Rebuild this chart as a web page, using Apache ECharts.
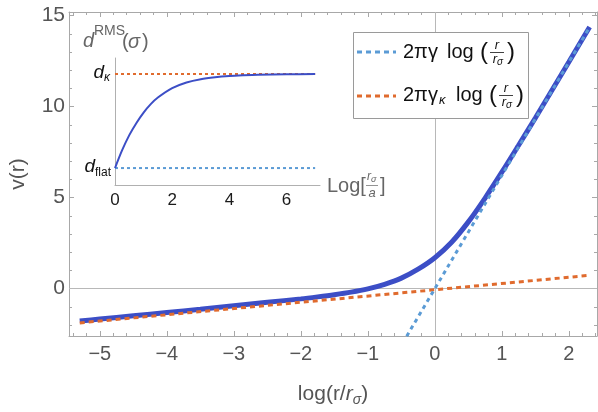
<!DOCTYPE html>
<html><head><meta charset="utf-8">
<script src="https://cdn.jsdelivr.net/npm/echarts@6/dist/echarts.min.js"></script>
<style>html,body{margin:0;padding:0;background:#fff}#c{width:598px;height:412px}</style>
</head><body><div id="c"></div>
<script>
// ---- data ----
const curveX = [-5.3,-5.0,-4.5,-4.0,-3.5,-3.0,-2.5,-2.0,-1.75,-1.5,-1.25,-1.0,-0.75,-0.5,-0.25,0,0.25,0.5,0.75,1.0,1.25,1.5,1.75,2.0,2.31];
const curveY = [-1.78,-1.67,-1.49,-1.31,-1.13,-0.94,-0.75,-0.56,-0.45,-0.33,-0.19,-0.01,0.24,0.58,1.07,1.7,2.55,3.67,4.98,6.4,7.88,9.38,10.91,12.45,14.38];
const gammaLineX = [-0.42, 2.31];
const gammaLineY = [-2.61, 14.37];
const kappaLineX = [-5.3, 2.3];
const kappaLineY = [-1.88, 0.73];
const insetX = [0,0.25,0.5,0.75,1,1.25,1.5,2,2.5,3,3.5,4,4.5,5,6,7];
const insetY = [0,0.19,0.35,0.48,0.59,0.68,0.75,0.85,0.91,0.945,0.965,0.978,0.986,0.992,0.997,1.0];
const insetLevelX = [0, 7];
const dFlat = 0, dKappa = 1;
const xMajorTicks = [-5,-4,-3,-2,-1,0,1,2];
const yMajorTicks = [0,5,10,15];
const insetXTicks = [0,2,4,6];

const xMinorTicks = [];
for (let i = -27; i <= 12; i++) { const v = Math.round(i*2)/10; if (Math.abs(v - Math.round(v)) > 1e-9) xMinorTicks.push(v); }
const yMinorTicks = [];
for (let v = -2; v <= 15; v++) { if (v % 5 !== 0) yMinorTicks.push(v); }

const zip = (a,b) => a.map((v,i)=>[v,b[i]]);
const FONT = 'Liberation Sans, Arial, sans-serif';
const FRAME = '#a8a8a8';
const LBL = '#555555';
const BLUE = '#3c4ec6', LBLUE = '#5b9bd5', ORANGE = '#e06b2e';

const chart = echarts.init(document.getElementById('c'), null, {renderer:'canvas'});

function frameAxis(kind, pos, ticks, len, opts) {
  const o = Object.assign({
    type:'value', gridIndex:0, position:pos,
    min: kind==='x' ? -5.46 : -2.6, max: kind==='x' ? 2.42 : 15.2,
    axisTick:{show:true, inside:true, length:len, customValues:ticks, lineStyle:{color:FRAME, width:1}},
    axisLabel:{show:false},
    splitLine:{show:false}
  }, opts||{});
  o.axisLine = {show: !!(opts && opts.line), onZero:false, lineStyle:{color:FRAME}};
  delete o.line;
  return o;
}
const fmt = v => v < 0 ? '\u2212' + Math.abs(v) : String(v);

const option = {
  animation:false,
  backgroundColor:'#fff',
  grid:[
    {left:69, right:1, top:12, bottom:73, show:false},
    {left:115, top:58, width:205, height:127, show:false}
  ],
  xAxis:[
    frameAxis('x','bottom',xMajorTicks,5,{
      line:true,
      axisLabel:{show:true, customValues:xMajorTicks, formatter:fmt, color:LBL, fontSize:20, fontFamily:FONT, margin:8},
      name:'{a|log(r/}{b|r}{c|\u03c3}{a|)}', nameLocation:'middle', nameGap:45,
      nameTextStyle:{rich:{
        a:{fontSize:21, color:LBL, fontFamily:FONT, lineHeight:26},
        b:{fontSize:21, color:LBL, fontFamily:FONT, fontStyle:'italic', lineHeight:26},
        c:{fontSize:14, color:LBL, fontFamily:FONT, fontStyle:'italic', verticalAlign:'bottom', lineHeight:16}
      }}
    }),
    frameAxis('x','bottom',xMinorTicks,3),
    frameAxis('x','top',xMajorTicks,5,{line:true}),
    frameAxis('x','top',xMinorTicks,3),
    {type:'value', gridIndex:1, min:0, max:7.17, interval:2,
     axisLine:{show:true, onZero:false, lineStyle:{color:'#b0b0b0'}},
     axisTick:{show:false}, splitLine:{show:false},
     axisLabel:{customValues:insetXTicks, color:'#1a1a1a', fontSize:17, fontFamily:FONT, margin:7}}
  ],
  yAxis:[
    frameAxis('y','left',yMajorTicks,5,{
      line:true,
      axisLabel:{show:true, customValues:yMajorTicks, color:LBL, fontSize:21, fontFamily:FONT, margin:4},
      name:'v(r)', nameLocation:'middle', nameGap:40, nameRotate:90,
      nameTextStyle:{fontSize:21, color:LBL, fontFamily:FONT}
    }),
    frameAxis('y','left',yMinorTicks,3),
    frameAxis('y','right',yMajorTicks,5,{line:true}),
    frameAxis('y','right',yMinorTicks,3),
    {type:'value', gridIndex:1, min:-0.18, max:1.17,
     axisLine:{show:true, onZero:false, lineStyle:{color:'#b0b0b0'}},
     axisTick:{show:false}, axisLabel:{show:false}, splitLine:{show:false}}
  ],
  series:[
    {type:'line', xAxisIndex:0, yAxisIndex:0, data:zip(curveX,curveY), showSymbol:false, smooth:0.3,
     lineStyle:{color:BLUE, width:5}, z:3,
     markLine:{silent:true, symbol:'none', label:{show:false},
       lineStyle:{color:'#b8b8b8', width:1, type:'solid'},
       data:[{yAxis:0},{xAxis:0}], z:1}},
    {type:'line', xAxisIndex:0, yAxisIndex:0, data:zip(kappaLineX,kappaLineY), showSymbol:false,
     lineStyle:{color:ORANGE, width:3, type:[5,4]}, z:4},
    {type:'line', xAxisIndex:0, yAxisIndex:0, data:zip(gammaLineX,gammaLineY), showSymbol:false,
     lineStyle:{color:LBLUE, width:3, type:[4,4]}, z:4},
    {type:'line', xAxisIndex:4, yAxisIndex:4, data:zip(insetLevelX,[dKappa,dKappa]), showSymbol:false,
     lineStyle:{color:ORANGE, width:2, type:[3,3]}, z:4},
    {type:'line', xAxisIndex:4, yAxisIndex:4, data:zip(insetLevelX,[dFlat,dFlat]), showSymbol:false,
     lineStyle:{color:LBLUE, width:2, type:[3,3]}, z:4},
    {type:'line', xAxisIndex:4, yAxisIndex:4, data:zip(insetX,insetY), showSymbol:false, smooth:0.3,
     lineStyle:{color:BLUE, width:2}, z:5}
  ]
};
chart.setOption(option);

// ---- typographic pieces (inset labels, legend) ----
const T = (text, x, y, size, extra) => ({type:'text', z:100, style:Object.assign({
  text, x, y, fontSize:size, fontFamily:FONT, fill:'#111', align:'left', verticalAlign:'middle'}, extra||{})});
const L = (x1,y1,x2,y2,stroke,w,dash) => ({type:'line', z:100, shape:{x1,y1,x2,y2},
  style:{stroke, lineWidth:w, lineDash:dash||null}});

const pK = chart.convertToPixel({xAxisIndex:4, yAxisIndex:4}, [0, dKappa]);
const pF = chart.convertToPixel({xAxisIndex:4, yAxisIndex:4}, [0, dFlat]);
const ax = pK[0];
const G = [];
// inset y labels
G.push(T('d', ax-11, pK[1]-1, 19, {align:'right', fontStyle:'italic'}));
G.push(T('\u03ba', ax-11, pK[1]+4, 12, {fontStyle:'italic'}));
G.push(T('d', ax-20, pF[1]-1, 19, {align:'right', fontStyle:'italic'}));
G.push(T('flat', ax-20, pF[1]+5, 12));
// inset title d^RMS(σ)
const GR = '#666666';
G.push(T('d', 83, 41, 20, {fontStyle:'italic', fill:GR}));
G.push(T('RMS', 94, 31, 14, {fill:GR}));
G.push(T('(', 122, 42, 20, {fill:GR}));
G.push(T('\u03c3', 128, 42, 20, {fontStyle:'italic', fill:GR}));
G.push(T(')', 142, 42, 20, {fill:GR}));
// inset x name Log[rσ/a]
G.push(T('Log[', 327, 186, 20, {fill:GR}));
G.push(T('r', 371, 177, 12, {fill:GR, align:'right', fontStyle:'italic'}));
G.push(T('\u03c3', 371, 179, 9, {fill:GR, fontStyle:'italic'}));
G.push(L(366, 185.5, 378, 185.5, GR, 0.7));
G.push(T('a', 372, 193, 13, {fill:GR, align:'center', fontStyle:'italic'}));
G.push(T(']', 380, 186, 20, {fill:GR}));
// legend
G.push({type:'rect', z:99, shape:{x:353.5, y:32.5, width:175, height:86}, style:{fill:'#fff', stroke:'#9a9a9a', lineWidth:1}});
G.push(L(357, 52, 396, 52, LBLUE, 3, [5,4]));
G.push(L(357, 96, 396, 96, ORANGE, 3, [5,4]));
// entry 1
G.push(T('2\u03c0\u03b3', 403, 52, 20));
G.push(T('log', 447, 52, 20));
G.push(T('(', 480, 52, 24));
G.push(T('r', 497, 45, 13, {align:'center', fontStyle:'italic'}));
G.push(L(490, 52.5, 504, 52.5, '#111', 0.8));
G.push(T('r', 497, 59, 13, {align:'right', fontStyle:'italic'}));
G.push(T('\u03c3', 497, 62, 10, {fontStyle:'italic'}));
G.push(T(')', 507, 52, 24));
// entry 2
G.push(T('2\u03c0\u03b3', 403, 95, 20));
G.push(T('\u03ba', 439, 100, 13, {fontStyle:'italic'}));
G.push(T('log', 456, 95, 20));
G.push(T('(', 489, 95, 24));
G.push(T('r', 506, 88, 13, {align:'center', fontStyle:'italic'}));
G.push(L(499, 95.5, 513, 95.5, '#111', 0.8));
G.push(T('r', 506, 102, 13, {align:'right', fontStyle:'italic'}));
G.push(T('\u03c3', 506, 105, 10, {fontStyle:'italic'}));
G.push(T(')', 516, 95, 24));
chart.setOption({graphic:G});
</script></body></html>
